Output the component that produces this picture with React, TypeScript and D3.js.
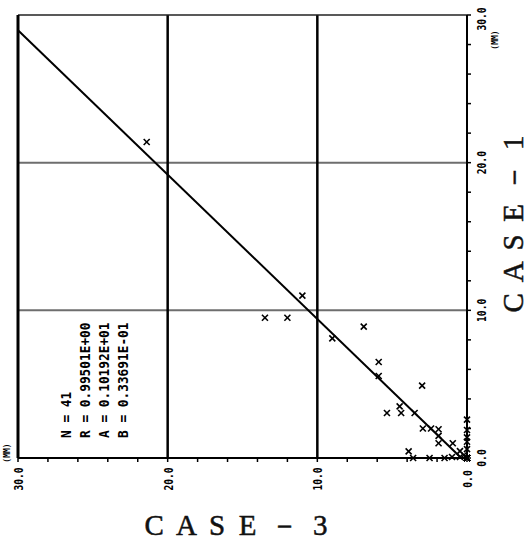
import React from "react";
import * as d3 from "d3";

// CASE-3 (horizontal, reversed) and CASE-1 (vertical) values, mm
const case3 = [21.4, 11.0, 13.5, 12.0, 6.9, 9.0, 5.9, 5.9, 3.0, 4.5, 4.4, 5.35, 3.5, 2.95, 2.4, 1.9, 1.9, 1.9, 0.95, 3.9, 0.47, 0.47, 1.0, 0, 0, 0, 0, 0, 3.6, 2.5, 1.5, 0.2, 0, 0, 0, 0, 0, 0, 0, 0, 0];
const case1 = [21.4, 11.0, 9.5, 9.5, 8.9, 8.1, 6.5, 5.55, 4.9, 3.5, 3.05, 3.05, 3.05, 2.0, 2.0, 1.95, 1.5, 1.0, 1.0, 0.45, 0.47, 0.07, 0.07, 2.6, 1.9, 1.4, 1.1, 0.6, 0, 0, 0, 0.2, 0, 0, 0, 0, 0, 0, 0, 0, 0];

// regression line end points
const fitX = [30, 0.4];
const fitY = [28.97, 0.02];

const majorTicks = [30, 20, 10, 0];
const majorLabels = ["30.0", "20.0", "10.0", "0.0"];
const gridValues = [10, 20];
const minorTicks = d3.range(0, 31, 2);

const statLines = ["N = 41", "R = 0.99501E+00", "A = 0.10192E+01", "B = 0.33691E-01"];
const xTitle = "C A S E － 3";
const yTitle = "C A S E － 1";

export default function App() {
  const W = 528, H = 541;
  const L = 18, R = 467, T = 15, B = 458;
  const x = d3.scaleLinear().domain([30, 0]).range([L, R]);
  const y = d3.scaleLinear().domain([0, 30]).range([B, T]);
  const line = d3.line<number>().x((_, i) => x(fitX[i])).y((_, i) => y(fitY[i]));
  const mono = "'DejaVu Sans Mono', monospace";
  const serif = "'Liberation Serif', 'DejaVu Serif', serif";
  const m = 3;
  return (
    <svg width={W} height={H} style={{ position: "absolute", left: 0, top: 0, background: "#fff" }}>
      <rect width={W} height={H} fill="#fff" />
      {/* horizontal grid (gray) */}
      {gridValues.map((v) => (
        <line key={"h" + v} x1={L} x2={R} y1={y(v)} y2={y(v)} stroke="#6e6e6e" strokeWidth={2} />
      ))}
      {/* vertical grid (black) */}
      {gridValues.map((v) => (
        <line key={"v" + v} x1={x(v)} x2={x(v)} y1={T} y2={B} stroke="#000" strokeWidth={2.5} />
      ))}
      {/* frame */}
      <line x1={L} x2={R} y1={T} y2={T} stroke="#222" strokeWidth={1.5} />
      <line x1={L} x2={L} y1={T} y2={B} stroke="#000" strokeWidth={3} />
      <line x1={R} x2={R} y1={T} y2={B} stroke="#000" strokeWidth={2} />
      <line x1={L} x2={R} y1={B} y2={B} stroke="#000" strokeWidth={2} />
      {/* minor ticks */}
      {minorTicks.map((v) => (
        <line key={"bt" + v} x1={x(v)} x2={x(v)} y1={B} y2={B + 4} stroke="#000" strokeWidth={1.5} />
      ))}
      {minorTicks.map((v) => (
        <line key={"rt" + v} x1={R} x2={R + 4} y1={y(v)} y2={y(v)} stroke="#000" strokeWidth={1.5} />
      ))}
      {/* regression line */}
      <path d={line(fitX) || ""} fill="none" stroke="#000" strokeWidth={2} />
      {/* points */}
      {case3.map((v, i) => {
        const cx = x(v), cy = y(case1[i]);
        return (
          <g key={"p" + i} stroke="#000" strokeWidth={1.6}>
            <line x1={cx - m} x2={cx + m} y1={cy - m} y2={cy + m} />
            <line x1={cx - m} x2={cx + m} y1={cy + m} y2={cy - m} />
          </g>
        );
      })}
      {/* bottom tick labels */}
      {majorTicks.map((v, i) => (
        <text key={"bl" + v} transform={`translate(${x(v) + 5},479) rotate(-90)`} textAnchor="middle"
          fontFamily={mono} fontWeight="bold" fontSize={12} fill="#000" textLength={majorLabels[i].length * 5.8} lengthAdjust="spacingAndGlyphs">
          {majorLabels[i]}
        </text>
      ))}
      {/* right tick labels */}
      {majorTicks.map((v, i) => (
        <text key={"rl" + v} transform={`translate(486,${Math.max(y(v), 19)}) rotate(-90)`} textAnchor="middle"
          fontFamily={mono} fontWeight="bold" fontSize={12} fill="#000" textLength={majorLabels[i].length * 5.8} lengthAdjust="spacingAndGlyphs">
          {majorLabels[i]}
        </text>
      ))}
      <text transform="translate(498,40) rotate(-90)" textAnchor="middle" fontFamily={mono} fontWeight="bold" fontSize={8} fill="#000">(MM)</text>
      <text transform="translate(10,453) rotate(-90)" textAnchor="middle" fontFamily={mono} fontWeight="bold" fontSize={8} fill="#000">(MM)</text>
      {/* statistics */}
      {statLines.map((s, i) => (
        <text key={"s" + i} transform={`translate(${71 + i * 19},438) rotate(-90)`} textAnchor="start"
          fontFamily={mono} fontWeight="bold" fontSize={14} fill="#000" textLength={s.length * 7.7} lengthAdjust="spacingAndGlyphs">
          {s}
        </text>
      ))}
      {/* axis titles */}
      <text x={236} y={535} textAnchor="middle" fontFamily={serif} fontSize={29} fill="#111" stroke="#111" strokeWidth={0.5} textLength={183} lengthAdjust="spacing">
        {xTitle}
      </text>
      <text transform="translate(523,224) rotate(-90)" textAnchor="middle" fontFamily={serif} fontSize={29} fill="#111" stroke="#111" strokeWidth={0.5} textLength={177} lengthAdjust="spacing">
        {yTitle}
      </text>
    </svg>
  );
}
